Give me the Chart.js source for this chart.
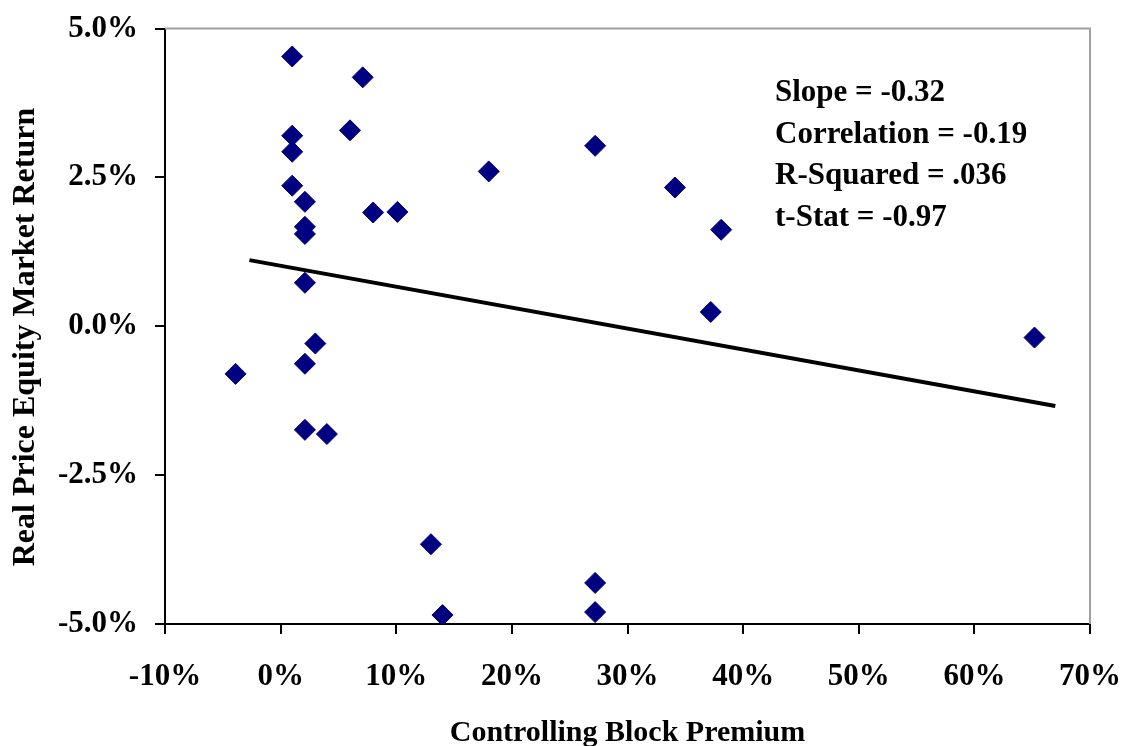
<!DOCTYPE html>
<html>
<head>
<meta charset="utf-8">
<script src="https://cdn.jsdelivr.net/npm/chart.js@4/dist/chart.umd.min.js"></script>
<style>
    body { margin: 0; background: #fff; }
    #grafico { display: block; }
</style>
</head>
<body>
<canvas id="grafico" width="1125" height="746"></canvas>
<script>
// controlling block premium (%) vs real price equity market return (%)
const premium = [1, 7.1, 1, 6, 1, 27.2, 18, 1, 34.1, 2.1, 8, 10.1, 2.1, 2.1, 38.1, 2.1, 37.2, 65.2, 3, 2.1, -3.9, 2.1, 4, 13, 27.2, 14, 27.2];
const returns = [4.53, 4.18, 3.20, 3.29, 2.93, 3.03, 2.60, 2.36, 2.33, 2.09, 1.91, 1.92, 1.67, 1.55, 1.62, 0.73, 0.24, -0.19, -0.29, -0.63, -0.80, -1.74, -1.81, -3.66, -4.31, -4.85, -4.80];

// fitted line
const trendX = [-2.7, 67];
const trendY = [1.11, -1.34];

const xTicks = [-10, 0, 10, 20, 30, 40, 50, 60, 70];
const yTicks = [-5, -2.5, 0, 2.5, 5];

const statLines = ["Slope = -0.32", "Correlation = -0.19", "R-Squared = .036", "t-Stat = -0.97"];

const fonte = '"Liberation Serif", "Times New Roman", serif';

function pontos(xs, ys) {
    return xs.map((x, i) => ({x: x, y: ys[i]}));
}

// top and right border of the plot area (grey), y title, stats text
const molduraPlugin = {
    id: 'moldura',
    beforeDatasetsDraw(chart) {
        const {ctx, chartArea} = chart;
        ctx.save();
        ctx.strokeStyle = '#a0a0a0';
        ctx.lineWidth = 2;
        ctx.beginPath();
        ctx.moveTo(chartArea.left, chartArea.top);
        ctx.lineTo(chartArea.right, chartArea.top);
        ctx.lineTo(chartArea.right, chartArea.bottom);
        ctx.stroke();
        ctx.restore();
    },
    afterDraw(chart) {
        const ctx = chart.ctx;
        ctx.save();
        ctx.fillStyle = '#000';
        ctx.textBaseline = 'middle';

        // y axis title, a bit below the plot centre like the original
        ctx.save();
        ctx.translate(26, 337);
        ctx.rotate(-Math.PI / 2);
        ctx.textAlign = 'center';
        ctx.font = 'bold 32px ' + fonte;
        ctx.fillText('Real Price Equity Market Return', 0, 0);
        ctx.restore();

        ctx.font = 'bold 31px ' + fonte;
        statLines.forEach((linha, i) => {
            ctx.fillText(linha, 775, 93 + i * 41.5);
        });
        ctx.restore();
    }
};

const ctx = document.getElementById('grafico').getContext('2d');
new Chart(ctx, {
    type: 'scatter',
    data: {
        datasets: [
            {
                label: 'Countries',
                data: pontos(premium, returns),
                pointStyle: 'rectRot',
                pointRadius: 10.5,
                pointBorderWidth: 1,
                backgroundColor: '#000080',
                borderColor: '#000080',
                order: 1
            },
            {
                label: 'Trend',
                data: pontos(trendX, trendY),
                showLine: true,
                pointRadius: 0,
                borderColor: '#000',
                borderWidth: 4,
                order: 2
            }
        ]
    },
    options: {
        responsive: false,
        animation: false,
        layout: {padding: {top: 28.5, right: 35, left: 0, bottom: 0}},
        plugins: {
            legend: {display: false},
            tooltip: {enabled: false}
        },
        scales: {
            x: {
                type: 'linear',
                min: -10,
                max: 70,
                afterBuildTicks: s => { s.ticks = xTicks.map(v => ({value: v})); },
                afterFit: s => {
                    s.height = 122;
                    s.paddingLeft = 0;
                    s.paddingRight = 0;
                },
                border: {display: true, color: '#000', width: 2},
                grid: {drawOnChartArea: false, drawTicks: true, tickLength: 10, color: '#000', lineWidth: 2},
                ticks: {
                    color: '#000',
                    padding: 24,
                    font: {family: fonte, size: 31, weight: 'bold'},
                    callback: v => v + '%'
                },
                title: {
                    display: true,
                    text: 'Controlling Block Premium',
                    color: '#000',
                    padding: {top: 0, bottom: -2},
                    font: {family: fonte, size: 30, weight: 'bold', lineHeight: 1.0}
                }
            },
            y: {
                type: 'linear',
                min: -5,
                max: 5,
                afterBuildTicks: s => { s.ticks = yTicks.map(v => ({value: v})); },
                afterFit: s => {
                    s.width = 165;
                    s.paddingTop = 0;
                    s.paddingBottom = 0;
                },
                border: {display: true, color: '#000', width: 2},
                grid: {drawOnChartArea: false, drawTicks: true, tickLength: 10, color: '#000', lineWidth: 2},
                ticks: {
                    color: '#000',
                    padding: 17,
                    font: {family: fonte, size: 31, weight: 'bold'},
                    callback: v => v.toFixed(1) + '%'
                }
            }
        }
    },
    plugins: [molduraPlugin]
});
</script>
</body>
</html>
